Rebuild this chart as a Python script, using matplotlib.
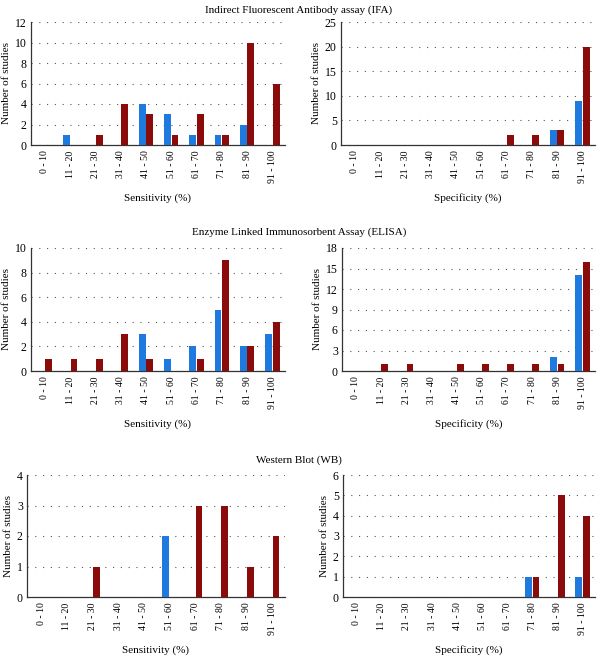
import numpy as np
import matplotlib.pyplot as plt

# DATA
ranges = ["0 - 10", "11 - 20", "21 - 30", "31 - 40", "41 - 50",
          "51 - 60", "61 - 70", "71 - 80", "81 - 90", "91 - 100"]

ifa_sens_blue = [0, 1, 0, 0, 4, 3, 1, 1, 2, 0]
ifa_sens_red = [0, 0, 1, 4, 3, 1, 3, 1, 10, 6]
ifa_spec_blue = [0, 0, 0, 0, 0, 0, 0, 0, 3, 9]
ifa_spec_red = [0, 0, 0, 0, 0, 0, 2, 2, 3, 20]

elisa_sens_blue = [0, 0, 0, 0, 3, 1, 2, 5, 2, 3]
elisa_sens_red = [1, 1, 1, 3, 1, 0, 1, 9, 2, 4]
elisa_spec_blue = [0, 0, 0, 0, 0, 0, 0, 0, 2, 14]
elisa_spec_red = [0, 1, 1, 0, 1, 1, 1, 1, 1, 16]

wb_sens_blue = [0, 0, 0, 0, 0, 2, 0, 0, 0, 0]
wb_sens_red = [0, 0, 1, 0, 0, 0, 3, 3, 1, 2]
wb_spec_blue = [0, 0, 0, 0, 0, 0, 0, 1, 0, 1]
wb_spec_red = [0, 0, 0, 0, 0, 0, 0, 1, 5, 4]

titles = ["Indirect Fluorescent Antibody assay (IFA)",
          "Enzyme Linked Immunosorbent Assay (ELISA)",
          "Western Blot (WB)"]

# STYLE
plt.rcParams['font.family'] = ['Liberation Serif', 'DejaVu Serif']
BLUE = "#1f7ae0"
RED = "#8b0a0a"
W, H = 598, 657
fs = 7


def px_axes(fig, left, top, right, bottom):
    # pixel box -> figure fraction
    return fig.add_axes([left / W, 1 - bottom / H, (right - left) / W, (bottom - top) / H])


def draw_panel(ax, blue, red, ymax, ystep, xlabel):
    x = np.arange(len(ranges))
    ax.bar(x - 0.15, blue, width=0.27, color=BLUE, zorder=3)
    ax.bar(x + 0.15, red, width=0.27, color=RED, zorder=3)
    ax.set_xlim(-0.55, 9.5)
    ax.set_ylim(0, ymax)
    ax.set_yticks(np.arange(0, ymax + ystep, ystep))
    ax.set_xticks(x)
    ax.set_xticklabels(ranges, rotation=90, fontsize=fs)
    ax.tick_params(axis='y', labelsize=fs + 1.5, length=0, pad=3)
    ax.tick_params(axis='x', length=0, pad=4)
    ax.yaxis.grid(True, linestyle=(0, (1, 6)), color="#555555", linewidth=0.8)
    ax.set_axisbelow(True)
    for s in ["top", "right"]:
        ax.spines[s].set_visible(False)
    for s in ["left", "bottom"]:
        ax.spines[s].set_color("#333333")
        ax.spines[s].set_linewidth(0.9)
    ax.set_ylabel("Number of studies", fontsize=fs + 1, labelpad=3)
    ax.set_xlabel(xlabel, fontsize=fs + 1, labelpad=7)


def main():
    fig = plt.figure(figsize=(W / 100, H / 100), dpi=100)

    # pixel boxes (left, top, right, bottom) per panel
    ax1 = px_axes(fig, 31, 22, 285, 145)
    ax2 = px_axes(fig, 341, 22, 595, 145)
    ax3 = px_axes(fig, 31, 248, 285, 371)
    ax4 = px_axes(fig, 342, 248, 595, 371)
    ax5 = px_axes(fig, 27, 475, 285, 597)
    ax6 = px_axes(fig, 343, 475, 595, 597)

    draw_panel(ax1, ifa_sens_blue, ifa_sens_red, 12, 2, "Sensitivity (%)")
    draw_panel(ax2, ifa_spec_blue, ifa_spec_red, 25, 5, "Specificity (%)")
    draw_panel(ax3, elisa_sens_blue, elisa_sens_red, 10, 2, "Sensitivity (%)")
    draw_panel(ax4, elisa_spec_blue, elisa_spec_red, 18, 3, "Specificity (%)")
    draw_panel(ax5, wb_sens_blue, wb_sens_red, 4, 1, "Sensitivity (%)")
    draw_panel(ax6, wb_spec_blue, wb_spec_red, 6, 1, "Specificity (%)")

    for t, y in zip(titles, [10, 232, 460]):
        fig.text(299 / W, 1 - y / H, t, ha="center", va="center", fontsize=fs + 1)

    fig.savefig("out.png", dpi=100)
    plt.close(fig)


if __name__ == "__main__":
    main()
